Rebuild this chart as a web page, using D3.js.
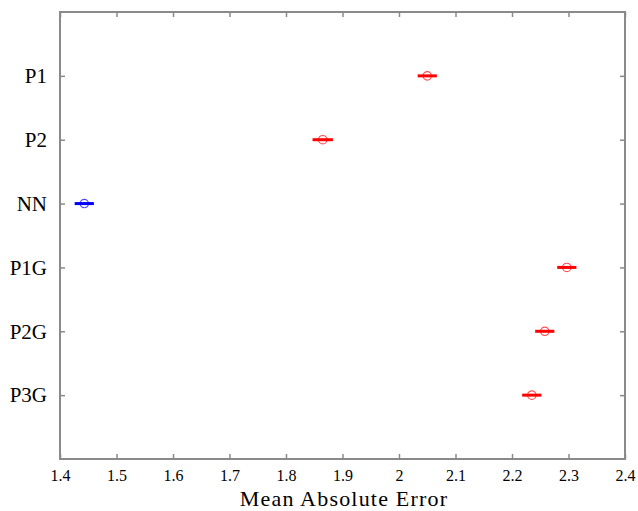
<!DOCTYPE html>
<html>
<head>
<meta charset="utf-8">
<script src="https://cdn.jsdelivr.net/npm/d3@7"></script>
<style>
  html, body { margin: 0; padding: 0; background: #fff; }
  svg { display: block; }
  svg text { font-family: "Liberation Serif", "Times New Roman", serif !important; fill: #000; }
</style>
</head>
<body>
<svg id="chart" width="638" height="511"></svg>
<script>
// Model names, top to bottom
const models = ["P1", "P2", "NN", "P1G", "P2G", "P3G"];
// Mean absolute error and interval half-width per model
const meanErrors = [2.050, 1.865, 1.443, 2.297, 2.258, 2.235];
const halfWidths = [0.017, 0.018, 0.017, 0.017, 0.017, 0.017];
// Highlighted model drawn in blue, the rest in red
const markColors = ["#ff0000", "#ff0000", "#0000ff", "#ff0000", "#ff0000", "#ff0000"];
// Axis ticks
const xTicks = [1.4, 1.5, 1.6, 1.7, 1.8, 1.9, 2.0, 2.1, 2.2, 2.3, 2.4];
const xTickLabels = ["1.4", "1.5", "1.6", "1.7", "1.8", "1.9", "2", "2.1", "2.2", "2.3", "2.4"];

const svg = d3.select("#chart");
const plotLeft = 60, plotRight = 625, plotTop = 12, plotBottom = 459;

const x = d3.scaleLinear().domain([1.4, 2.4]).range([plotLeft, plotRight]);
const y = d3.scaleLinear().domain([0, models.length + 1]).range([plotTop, plotBottom]);

const frameColor = "#8a8a8a";
const tickLen = 5;

// Bottom axis with labels, ticks pointing inward
const xAxisBottom = d3.axisBottom(x)
  .tickValues(xTicks)
  .tickFormat((d, i) => xTickLabels[i])
  .tickSizeInner(-tickLen).tickSizeOuter(0).tickPadding(11);
const gb = svg.append("g").attr("transform", `translate(0,${plotBottom})`).call(xAxisBottom);
gb.select(".domain").remove();
gb.selectAll(".tick line").attr("stroke", frameColor).attr("stroke-width", 1.5);
gb.selectAll(".tick text").attr("font-size", 16);

// Top axis: ticks only
const xAxisTop = d3.axisTop(x).tickValues(xTicks).tickFormat("")
  .tickSizeInner(-tickLen).tickSizeOuter(0);
const gt = svg.append("g").attr("transform", `translate(0,${plotTop})`).call(xAxisTop);
gt.select(".domain").remove();
gt.selectAll(".tick line").attr("stroke", frameColor).attr("stroke-width", 1.5);

// Left axis with model names
const yIdx = models.map((_, i) => i + 1);
const yAxisLeft = d3.axisLeft(y).tickValues(yIdx)
  .tickFormat(d => models[d - 1])
  .tickSizeInner(-tickLen).tickSizeOuter(0).tickPadding(13);
const gl = svg.append("g").attr("transform", `translate(${plotLeft},0)`).call(yAxisLeft);
gl.select(".domain").remove();
gl.selectAll(".tick line").attr("stroke", frameColor).attr("stroke-width", 1.5);
gl.selectAll(".tick text").attr("font-size", 21);

// Right axis: ticks only
const yAxisRight = d3.axisRight(y).tickValues(yIdx).tickFormat("")
  .tickSizeInner(-tickLen).tickSizeOuter(0);
const gr = svg.append("g").attr("transform", `translate(${plotRight},0)`).call(yAxisRight);
gr.select(".domain").remove();
gr.selectAll(".tick line").attr("stroke", frameColor).attr("stroke-width", 1.5);

// Plot frame
svg.append("rect")
  .attr("x", plotLeft).attr("y", plotTop)
  .attr("width", plotRight - plotLeft).attr("height", plotBottom - plotTop)
  .attr("fill", "none").attr("stroke", frameColor).attr("stroke-width", 2);

// Error intervals and mean markers
const marks = svg.append("g").selectAll("g").data(models).join("g");
marks.append("line")
  .attr("x1", (d, i) => x(meanErrors[i] - halfWidths[i]))
  .attr("x2", (d, i) => x(meanErrors[i] + halfWidths[i]))
  .attr("y1", (d, i) => y(i + 1)).attr("y2", (d, i) => y(i + 1))
  .attr("stroke", (d, i) => markColors[i]).attr("stroke-width", 3);
marks.append("circle")
  .attr("cx", (d, i) => x(meanErrors[i]))
  .attr("cy", (d, i) => y(i + 1))
  .attr("r", 4.2)
  .attr("fill", "none")
  .attr("stroke", (d, i) => markColors[i]).attr("stroke-width", 1.2)
  .attr("stroke-opacity", 0.7);

// X axis title
svg.append("text")
  .attr("x", 344).attr("y", 506)
  .attr("text-anchor", "middle")
  .attr("font-size", 22)
  .attr("letter-spacing", 1.2)
  .text("Mean Absolute Error");
</script>
</body>
</html>
